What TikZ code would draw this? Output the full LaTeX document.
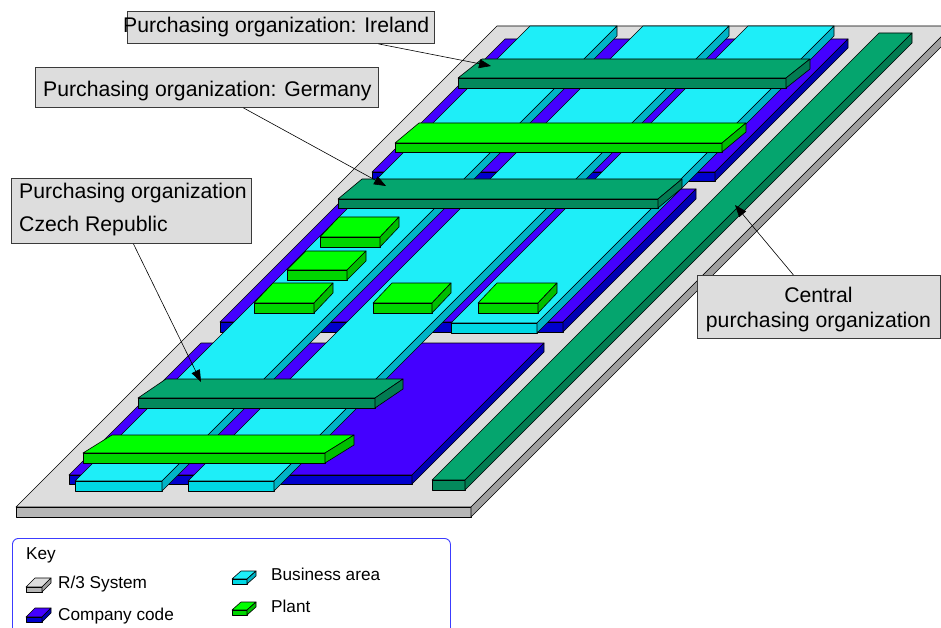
\documentclass[tikz,border=0pt]{standalone}
\usepackage{fontspec}
\setmainfont{Liberation Sans}
\usetikzlibrary{arrows.meta}
\definecolor{plateT}{HTML}{DDDDDD}
\definecolor{plateF}{HTML}{B6B6B6}
\definecolor{plateS}{HTML}{A0A0A0}
\definecolor{ccT}{HTML}{4400FF}
\definecolor{ccF}{HTML}{0000CC}
\definecolor{ccS}{HTML}{0000B4}
\definecolor{baT}{HTML}{1EEEF8}
\definecolor{baF}{HTML}{00D8E4}
\definecolor{baS}{HTML}{00B4C6}
\definecolor{plT}{HTML}{00FF00}
\definecolor{plF}{HTML}{00D600}
\definecolor{plS}{HTML}{00BE00}
\definecolor{poT}{HTML}{05A56E}
\definecolor{poF}{HTML}{04895C}
\definecolor{poS}{HTML}{037C52}
\definecolor{calloutF}{HTML}{DDDDDD}
\definecolor{calloutB}{HTML}{3A3A3A}
\definecolor{keyB}{HTML}{3C3CFF}
% #1,#2 top-front-left corner; #3 width; #4,#5 depth offset (right, up); #6 thickness; #7 top, #8 front, #9 side colour
\newcommand{\slab}[9]{%
  \filldraw[edge, fill=#7] (#1,#2) -- ++(#3,0) -- ++(#4,-#5) -- ++(-#3,0) -- cycle;
  \filldraw[edge, fill=#8] (#1,#2) rectangle ++(#3,#6);
  \filldraw[edge, fill=#9] (#1+#3,#2) -- ++(#4,-#5) -- ++(0,#6) -- ++(-#4,#5) -- cycle;
}
\begin{document}
\begin{tikzpicture}[x=1pt, y=-1pt,
  edge/.style={draw=black, line width=0.6pt, line join=round},
  callout/.style={draw=calloutB, fill=calloutF, line width=0.9pt, inner sep=0pt},
  lbl/.style={inner sep=0pt, font=\fontsize{21.2}{25}\selectfont},
  keytext/.style={inner sep=0pt, font=\fontsize{17.2}{20}\selectfont},
  keybox/.style={draw=keyB, line width=0.9pt, rounded corners=6pt, inner sep=0pt},
  pointer/.style={draw=black, line width=0.6pt, -{Triangle[length=12pt,width=9pt]}},
]
\useasboundingbox (0,0) rectangle (941,628);
\clip (0,0) rectangle (941,628);
\fill[white] (0,0) rectangle (941,628);

% R/3 system plate
\slab{16}{507}{455}{481}{481}{10}{plateT}{plateF}{plateS}
% central purchasing organization
\slab{432}{480}{33}{447}{447}{10}{poT}{poF}{poS}
% company codes
\slab{372}{172}{343}{133}{133}{9}{ccT}{ccF}{ccS}
\slab{220}{322}{343}{133}{133}{10}{ccT}{ccF}{ccS}
\slab{69}{475}{343}{132}{132}{9}{ccT}{ccF}{ccS}
% business areas
\slab{75}{481}{87}{455}{455}{10}{baT}{baF}{baS}
\slab{188}{481}{86}{455}{455}{10}{baT}{baF}{baS}
\slab{451}{323}{86}{297}{297}{10}{baT}{baF}{baS}
% purchasing organizations and plants
\slab{458}{78}{328}{24}{19}{10}{poT}{poF}{poS}
\slab{395}{143}{327}{24}{20}{9}{plT}{plF}{plS}
\slab{338}{199}{320}{24}{20}{9}{poT}{poF}{poS}
\slab{320}{237}{60}{19}{20}{10}{plT}{plF}{plS}
\slab{287}{270}{60}{19}{19}{10}{plT}{plF}{plS}
\slab{254}{303}{60}{19}{20}{10}{plT}{plF}{plS}
\slab{373}{303}{59}{19}{20}{10}{plT}{plF}{plS}
\slab{478}{303}{60}{19}{20}{10}{plT}{plF}{plS}
\slab{138}{398}{237}{28}{19}{10}{poT}{poF}{poS}
\slab{83}{453}{242}{29}{18}{10}{plT}{plF}{plS}

% callouts
\node[callout, minimum width=307pt, minimum height=32pt, anchor=north west] (ire) at (127,11) {};
\node[lbl, anchor=base west] (iret) at (123,33) {Purchasing organization: Ireland};
\node[callout, minimum width=343pt, minimum height=40pt, anchor=north west] (ger) at (35,67) {};
\node[lbl, anchor=base west] (gert) at (43,97) {Purchasing organization: Germany};
\node[callout, minimum width=240pt, minimum height=65pt, anchor=north west] (cze) at (11,178) {};
\node[lbl, anchor=base west] (czet1) at (19,199) {Purchasing organization};
\node[lbl, anchor=base west] (czet2) at (19,231) {Czech Republic};
\node[callout, minimum width=243pt, minimum height=63pt, anchor=north west] (cen) at (697,275) {};
\node[lbl, anchor=base] (cent1) at (818.5,302) {Central};
\node[lbl, anchor=base] (cent2) at (818.5,327) {purchasing organization};

\coordinate (ireTip) at (491,66);
\coordinate (gerTip) at (386,186);
\coordinate (czeTip) at (201,382);
\coordinate (cenTip) at (735,205);
\draw[pointer] ([xshift=97.5pt]ire.south) -- (ireTip);
\draw[pointer] ([xshift=36.5pt]ger.south) -- (gerTip);
\draw[pointer] ([xshift=2pt]cze.south) -- (czeTip);
\draw[pointer] ([xshift=-25.5pt]cen.north) -- (cenTip);

% key
\node[keybox, minimum width=438pt, minimum height=110pt, anchor=north west] (key) at (12,538) {};
\node[keytext, anchor=base west] (keyt) at (26,559) {Key};
\slab{26}{587}{16}{9}{9}{5}{plateT}{plateF}{plateS}
\node[keytext, anchor=base west] (k1) at (58,588) {R/3 System};
\slab{26}{617}{16}{9}{9}{5}{ccT}{ccF}{ccS}
\node[keytext, anchor=base west] (k2) at (58,620) {Company code};
\slab{232}{579}{15}{9}{8}{5}{baT}{baF}{baS}
\node[keytext, anchor=base west] (k3) at (271,580) {Business area};
\slab{232}{610}{15}{9}{8}{5}{plT}{plF}{plS}
\node[keytext, anchor=base west] (k4) at (271,612) {Plant};
\end{tikzpicture}
\end{document}
